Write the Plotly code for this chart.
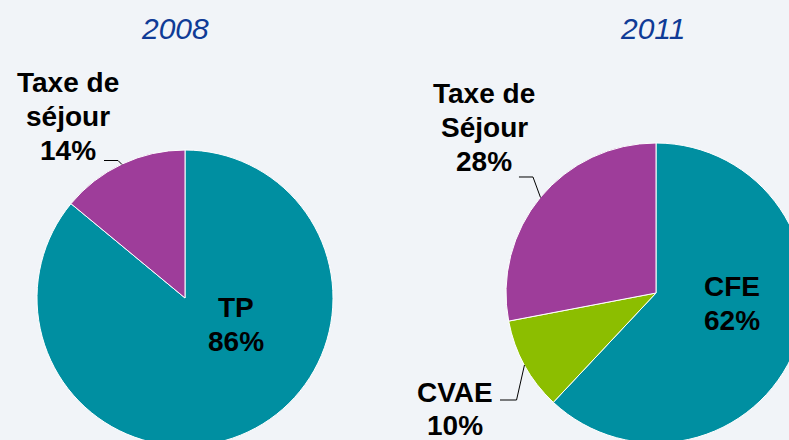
import plotly.graph_objects as go

# data
years = ["2008", "2011"]
labels_2008 = ["TP", "Taxe de<br>séjour"]
values_2008 = [86, 14]
labels_2011 = ["CFE", "CVAE", "Taxe de<br>Séjour"]
values_2011 = [62, 10, 28]

TEAL = "#008FA1"
PURPLE = "#9E3D9A"
GREEN = "#8CBE00"
TITLE_BLUE = "#0F3B96"

W, H = 810, 450   # a bit larger than the window, so the pies get cropped like in the original


def px(x, y):
    """pixel (from top-left) -> paper coords"""
    return x / W, 1 - y / H


def dom(cx, cy, r):
    x0, y0 = px(cx - r, cy + r)
    x1, y1 = px(cx + r, cy - r)
    return dict(x=[x0, x1], y=[y0, y1])


fig = go.Figure()
fig.add_trace(go.Pie(
    labels=labels_2008, values=values_2008, sort=False, direction="clockwise",
    rotation=0, textinfo="none", hoverinfo="label+percent",
    marker=dict(colors=[TEAL, PURPLE], line=dict(color="white", width=1)),
    domain=dom(185, 298, 148), showlegend=False,
))
fig.add_trace(go.Pie(
    labels=labels_2011, values=values_2011, sort=False, direction="clockwise",
    rotation=0, textinfo="none", hoverinfo="label+percent",
    marker=dict(colors=[TEAL, GREEN, PURPLE], line=dict(color="white", width=1)),
    domain=dom(656, 293, 150), showlegend=False,
))

ann = []
# titles
for yr, (tx, ty) in zip(years, [(174.5, 28.3), (653, 28.3)]):
    x, y = px(tx, ty)
    ann.append(dict(x=x, y=y, text=yr, showarrow=False, xanchor="center", yanchor="middle",
                    font=dict(size=30, color=TITLE_BLUE, style="italic")))

# slice labels: one annotation per text line (tighter line spacing than plotly's <br>)
label_pos = [
    (labels_2008, values_2008, [(236, 307.5), (68, 82.5)]),
    (labels_2011, values_2011, [(731.5, 286.7), (455, 392), (484, 93.7)]),
]
LINE = 33.8
for labs, vals, pos in label_pos:
    for lab, v, (lx, ly) in zip(labs, vals, pos):
        lines = lab.split("<br>") + [f"{v}%"]
        for i, t in enumerate(lines):
            x, y = px(lx, ly + i * LINE)
            ann.append(dict(x=x, y=y, text=t, showarrow=False,
                            xanchor="center", yanchor="middle",
                            font=dict(size=28, color="black", weight="bold")))

# leader lines
leaders = [
    [(104, 160.5), (118, 160.5), (122, 164.5)],
    [(519, 177), (533, 177), (540.5, 197.5)],
    [(500, 400), (516.5, 400), (524.5, 365)],
]
shapes = []
for pts in leaders:
    p = " L ".join(f"{px(a, b)[0]:.4f},{px(a, b)[1]:.4f}" for a, b in pts)
    shapes.append(dict(type="path", xref="paper", yref="paper", path="M " + p,
                       line=dict(color="black", width=1)))

fig.update_layout(
    width=W, height=H,
    margin=dict(l=0, r=0, t=0, b=0),
    paper_bgcolor="#F1F4F8",
    font=dict(family="Liberation Sans, Arial, sans-serif"),
    annotations=ann,
    shapes=shapes,
)
fig.write_html(
    "out.html",
    config={"displayModeBar": False},
    post_script="document.body.style.margin='0';"
                "document.body.style.overflow='hidden';"
                "document.documentElement.style.overflow='hidden';",
)
